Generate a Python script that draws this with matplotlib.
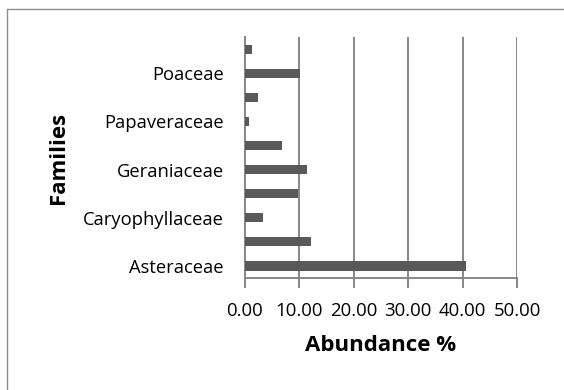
import matplotlib.pyplot as plt
from matplotlib.patches import Rectangle

# families from bottom to top; only every other name is shown on the axis
families = ['Asteraceae', 'Boraginaceae', 'Caryophyllaceae', 'Fabaceae',
            'Geraniaceae', 'Lamiaceae', 'Papaveraceae', 'Plantaginaceae',
            'Poaceae', 'Rosaceae']
abundance = [40.6, 12.2, 3.35, 9.85, 11.4, 6.85, 0.85, 2.4, 10.2, 1.35]
x_ticks = [0, 10, 20, 30, 40, 50]

grid_col = '#878787'
bar_col = '#595959'
font = 'Open Sans'

fig = plt.figure(figsize=(5.64, 3.90), dpi=100)
ax = fig.add_axes([0.434, 0.287, 0.483, 0.618])

# chart border (runs off the right and bottom of the picture)
fig.patches.append(Rectangle((7 / 564, -0.1), 1.2, 1.1 - 9 / 390,
                             transform=fig.transFigure, fill=False,
                             edgecolor='#8c8c8c', linewidth=1.0))

pos = list(range(len(families)))
ax.barh(pos, abundance, height=0.38, color=bar_col, zorder=3)

ax.set_xlim(0, 50)
ax.set_ylim(-0.5, len(families) - 0.5)
ax.set_xticks(x_ticks)
ax.set_xticklabels([f'{v:.2f}' for v in x_ticks], fontfamily=font, fontsize=13.4)
ax.set_yticks(pos)
ax.set_yticklabels([f if i % 2 == 0 else '' for i, f in enumerate(families)],
                   fontfamily=font, fontsize=13.2)

ax.xaxis.grid(True, color=grid_col, linewidth=1.4, zorder=0)
ax.tick_params(axis='x', length=7, width=1.4, color=grid_col, pad=10)
ax.tick_params(axis='y', length=0, pad=15)

for side in ['top', 'right']:
    ax.spines[side].set_visible(False)
for side in ['left', 'bottom']:
    ax.spines[side].set_color(grid_col)
    ax.spines[side].set_linewidth(1.4)

ax.set_xlabel('Abundance %', fontfamily=font, fontsize=16, fontweight='bold')
ax.set_ylabel('Families', fontfamily=font, fontsize=16, fontweight='bold')
ax.xaxis.set_label_coords(0.5, -0.235)
ax.yaxis.set_label_coords(-0.645, 0.5)

fig.savefig('out.png', dpi=100)
